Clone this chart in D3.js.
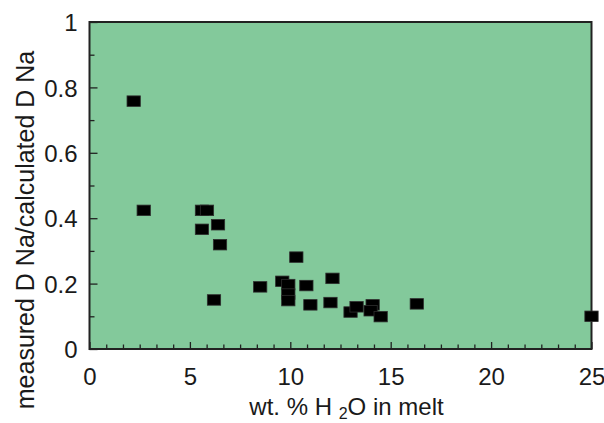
<!DOCTYPE html>
<html>
<head>
<meta charset="utf-8">
<script src="https://cdn.jsdelivr.net/npm/d3@7"></script>
<style>
  html, body { margin: 0; padding: 0; background: #ffffff; }
  svg { display: block; }
  text { font-family: "Liberation Sans", Arial, sans-serif; fill: #1a1a1a; }
</style>
</head>
<body>
<svg id="chart" width="604" height="423"></svg>
<script>
// ---- data ----
const waterContent = [2.2, 2.7, 5.6, 5.85, 5.6, 6.4, 6.5, 6.2, 8.5, 10.3, 9.6, 9.9, 9.9, 9.9, 10.8, 11.0, 12.1, 12.0, 13.0, 13.3, 14.1, 14.0, 14.5, 16.3, 25.0];
const dNaRatio     = [0.758, 0.424, 0.424, 0.424, 0.366, 0.380, 0.319, 0.150, 0.190, 0.281, 0.207, 0.197, 0.168, 0.148, 0.194, 0.135, 0.216, 0.142, 0.113, 0.129, 0.135, 0.117, 0.099, 0.138, 0.100];
const xMajorTicks = [0, 5, 10, 15, 20, 25];
const yMajorTicks = [0, 0.2, 0.4, 0.6, 0.8, 1];
const yTickLabels = ["0", "0.2", "0.4", "0.6", "0.8", "1"];
const yMinorTicks = [0.1, 0.3, 0.5, 0.7, 0.9];
const xLabel = "wt. % H";
const yLabel = "measured D Na/calculated D Na";

// ---- layout ----
const L = 89.5, R = 591.5, T = 22, B = 349;
const svg = d3.select("#chart");
const x = d3.scaleLinear().domain([0, 25]).range([L, R]);
const y = d3.scaleLinear().domain([0, 1]).range([B, T]);

// minor x ticks: 6 subdivisions per 5 units
const xMinorTicks = d3.range(0, 25.001, 5 / 6).filter(v => Math.abs(v / 5 - Math.round(v / 5)) > 1e-6);

// background
svg.append("rect").attr("x", L).attr("y", T).attr("width", R - L).attr("height", B - T)
  .attr("fill", "#83c99b");

// axes
const axisColor = "#222";
const gx = svg.append("g").attr("transform", `translate(0,${B})`)
  .call(d3.axisBottom(x).tickValues(xMajorTicks).tickSizeInner(-7).tickSizeOuter(0).tickPadding(19).tickFormat(d3.format("d")));
const gxm = svg.append("g").attr("transform", `translate(0,${B})`)
  .call(d3.axisBottom(x).tickValues(xMinorTicks).tickSizeInner(-4.5).tickSizeOuter(0).tickFormat(""));
const gy = svg.append("g").attr("transform", `translate(${L},0)`)
  .call(d3.axisLeft(y).tickValues(yMajorTicks).tickSizeInner(-8).tickSizeOuter(0).tickPadding(12)
    .tickFormat((d, i) => yTickLabels[i]));
const gym = svg.append("g").attr("transform", `translate(${L},0)`)
  .call(d3.axisLeft(y).tickValues(yMinorTicks).tickSizeInner(-5).tickSizeOuter(0).tickFormat(""));

[gx, gxm, gy, gym].forEach(g => {
  g.select(".domain").remove();
  g.selectAll(".tick line").attr("stroke", axisColor).attr("stroke-width", 1.3);
  g.selectAll(".tick text").attr("font-family", "Liberation Sans, Arial, sans-serif")
    .attr("font-size", 24).attr("fill", "#1a1a1a");
});
gxm.selectAll(".tick text").remove();
gym.selectAll(".tick text").remove();
gy.selectAll(".tick text").attr("dy", "0.36em");
gx.selectAll(".tick text").attr("dy", "0.72em");

// frame
svg.append("rect").attr("x", L).attr("y", T).attr("width", R - L).attr("height", B - T)
  .attr("fill", "none").attr("stroke", axisColor).attr("stroke-width", 2);

// points
const pts = waterContent.map((v, i) => ({ xv: v, yv: dNaRatio[i] }));
const mw = 13.3, mh = 10.5;
svg.append("g").selectAll("rect").data(pts).join("rect")
  .attr("x", d => x(d.xv) - mw / 2)
  .attr("y", d => y(d.yv) - mh / 2)
  .attr("width", mw).attr("height", mh)
  .attr("fill", "#000").attr("stroke", "#2e2e2e").attr("stroke-width", 0.8);

// axis titles
const xt = svg.append("text").attr("x", (L + R) / 2 + 6).attr("y", 415)
  .attr("text-anchor", "middle").attr("font-size", 24);
xt.append("tspan").text(xLabel + " ");
xt.append("tspan").text("2").attr("font-size", 16).attr("dy", 4);
xt.append("tspan").text("O in melt").attr("dy", -4);

svg.append("text").attr("transform", `translate(34,230) rotate(-90)`)
  .attr("text-anchor", "middle").attr("font-size", 25).text(yLabel);
</script>
</body>
</html>
